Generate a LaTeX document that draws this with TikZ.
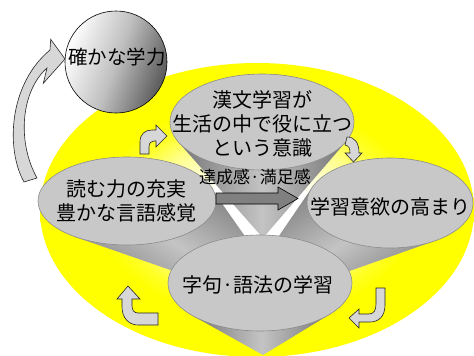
\documentclass[tikz,border=0pt]{standalone}
\usepackage{fontspec}
\newfontfamily\jp{Noto Sans CJK JP}
\usetikzlibrary{shapes.geometric}
\pgfdeclareradialshading{yglow}{\pgfpoint{0bp}{0bp}}{color(0bp)=(white); color(6bp)=(white); color(12.5bp)=(yellow!45!white); color(16bp)=(yellow!85!white); color(18.5bp)=(yellow); color(50bp)=(yellow)}
\definecolor{ellfill}{RGB}{200,200,200}
\definecolor{elldraw}{RGB}{140,140,140}
\definecolor{conedark}{RGB}{118,118,118}
\definecolor{conelight}{RGB}{196,196,196}
\definecolor{arrfill}{RGB}{215,215,215}
\definecolor{midarr}{RGB}{128,128,128}
\begin{document}
\begin{tikzpicture}[x=1pt,y=-1pt,
  cone/.style={top color=conedark, bottom color=conedark, middle color=conelight},
  ell/.style={ellipse, draw=elldraw, fill=ellfill, line width=0.6pt, inner sep=0pt},
  lbl/.style={font=\jp\fontsize{20pt}{24pt}\selectfont, align=center, inner sep=0pt},
  blockarr/.style={fill=arrfill, draw=black!85, line width=0.6pt, line join=miter},
  midarrow/.style={fill=midarr, draw=black, line width=0.6pt, line join=miter}]
\useasboundingbox (0,0) rectangle (474,356);
% yellow glow
\path[shading=yglow] (257,210) ellipse [x radius=217pt, y radius=147pt];
% top cone and ellipse
\path[cone, shading angle=90] (262,122) -- (178.4,142.1) -- (263,238) -- (345.9,141.7) -- cycle;
\node[ell, minimum width=184pt, minimum height=96pt] (etop) at (262,122) {};
% left cone and ellipse
\path[cone, shading angle=-33] (127,201) -- (211.3,188.2) -- (300,315) -- (75.1,236.9) -- cycle;
\node[ell, minimum width=178pt, minimum height=88pt] (eleft) at (127,201) {};
% right cone and ellipse
\path[cone, shading angle=34] (390,203) -- (312.1,187.4) -- (225,315) -- (435.3,240.7) -- cycle;
\node[ell, minimum width=166pt, minimum height=90pt] (eright) at (390,203) {};
% bottom cone and ellipse
\path[cone, shading angle=90] (260,283) -- (192.8,315.8) -- (263,355) -- (329.9,314.2) -- cycle;
\node[ell, minimum width=184pt, minimum height=96pt] (ebottom) at (260,283) {};
% labels
\node[lbl] (ttop) at (262,124) {漢文学習が\\生活の中で役に立つ\\という意識};
\node[lbl] (tleft) at (126,201) {読む力の充実\\豊かな言語感覚};
\node[lbl] (tright) at (390,207) {学習意欲の高まり};
\node[lbl] (tbottom) at (258,285) {字句·語法の学習};
% middle arrow and its label
\path[midarrow] (216,193) -- (278,193) -- (278,187) -- (298,198.5) -- (278,210) -- (278,204) -- (216,204) -- cycle;
\node[font=\jp\fontsize{17pt}{20pt}\selectfont, inner sep=0pt] (tmid) at (255,177) {達成感·満足感};
% small bent arrows
\path[blockarr] (140,154) -- (140,142) .. controls (140,134) and (145,130) .. (152,130) -- (156,130) -- (156,125) -- (167,136) -- (156,147) -- (156,141) -- (154,141) .. controls (151,141) and (149,143) .. (149,147) -- (149,154) -- cycle;
\path[blockarr] (347,137) .. controls (355,137) and (359,143) .. (359,153) -- (362,153) -- (353.5,162) -- (345,153) -- (350,153) .. controls (350,148) and (349,146) .. (345,145) -- cycle;
\path[blockarr] (376,288) -- (385,288) -- (385,305) .. controls (385,316) and (379,322) .. (370,322) -- (359,322) -- (359,328) -- (349,318) -- (359,309) -- (359,314) -- (369,314) .. controls (374,314) and (376,310) .. (376,304) -- cycle;
\path[blockarr] (158,313) -- (138,313) .. controls (134,313) and (132,310) .. (132,306) -- (132,299) -- (140,299) -- (128,286) -- (117,299) -- (122,299) -- (122,307) .. controls (122,318) and (129,325) .. (138,325) -- (158,325) -- cycle;
% sphere
\node[circle, minimum size=102pt, inner sep=0pt, draw=black, line width=0.6pt,
  top color=white, bottom color=black!65, middle color=black!25, shading angle=70] (ball) at (116,62) {};
\node[lbl, font=\jp\fontsize{19.5pt}{22pt}\selectfont] (tball) at (117,57) {確かな学力};
% big curved arrow
\path[blockarr] (24,182) .. controls (6,150) and (8,85) .. (50,50) -- (50.7,39.3) -- (65,59) -- (43.3,83.3) -- (47,68) .. controls (22,90) and (16,140) .. (37,178) -- cycle;
\end{tikzpicture}
\end{document}
